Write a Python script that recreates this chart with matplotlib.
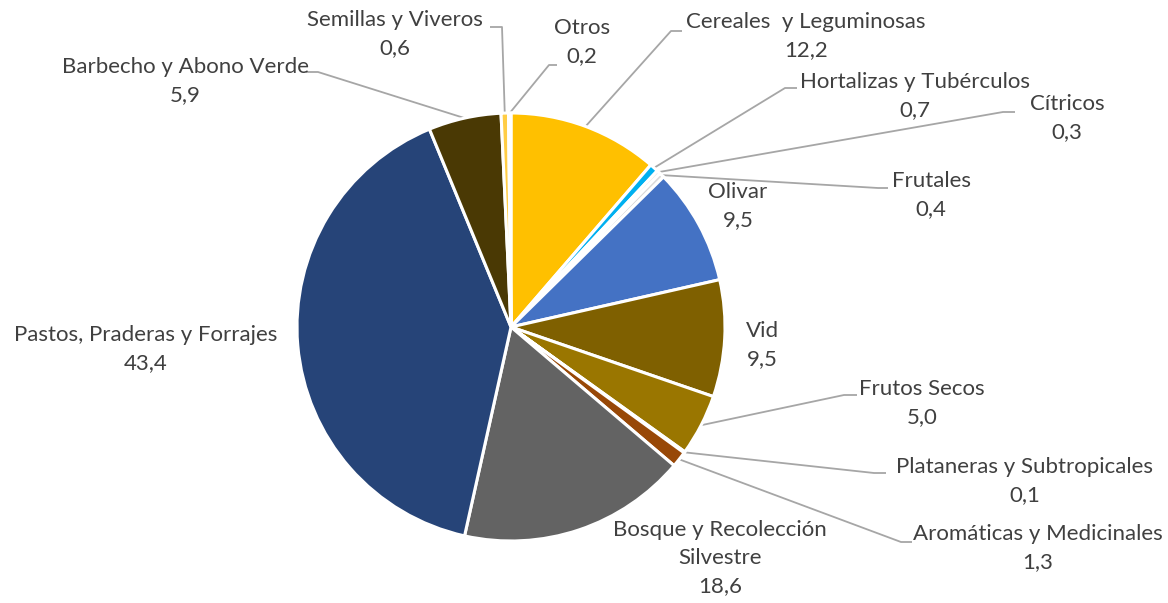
import numpy as np
import matplotlib
matplotlib.use("Agg")
import matplotlib.pyplot as plt

categories = ["Cereales  y Leguminosas", "Hortalizas y Tubérculos", "Cítricos", "Frutales",
              "Olivar", "Vid", "Frutos Secos", "Plataneras y Subtropicales",
              "Aromáticas y Medicinales", "Bosque y Recolección\nSilvestre",
              "Pastos, Praderas y Forrajes", "Barbecho y Abono Verde",
              "Semillas y Viveros", "Otros"]
values = [12.2, 0.7, 0.3, 0.4, 9.5, 9.5, 5.0, 0.1, 1.3, 18.6, 43.4, 5.9, 0.6, 0.2]
colors = ["#FFC000", "#00B0F0", "#E4E4E4", "#D9D9D9", "#4472C4", "#7F6000", "#9A7600",
          "#BF9000", "#984807", "#636363", "#264478", "#4A3904", "#FFCD45", "#FFE699"]

# layout (image pixel coords): label centre, leader elbow, leader end at text
label_pos = [(806, 36), (915, 96), (1067, 118), (931, 195), (738, 206), (762, 345),
             (922, 403), (1025, 481), (1038, 548), (720, 558), (146, 349), (185, 81),
             (395, 34), (582, 42)]
leaders = {0: ((671, 31), (682, 31)), 1: ((785, 88), (797, 88)),
           2: ((1003, 112), (1015, 112)), 3: ((878, 188), (888, 188)),
           6: ((844, 395), (857, 395)), 7: ((874, 473), (886, 473)),
           8: ((901, 542), (912, 542)), 11: ((318, 72), (306, 72)),
           12: ((502, 27), (490, 27)), 13: ((549, 65), (557, 65))}

W, H = 1168, 603
cx, cy, R = 511, 327, 214

fig = plt.figure(figsize=(W / 100, H / 100), dpi=100)
ax = fig.add_axes([0, 0, 1, 1])
ax.pie(values, colors=colors, startangle=90, counterclock=False,
       center=(cx, H - cy), radius=R,
       wedgeprops=dict(edgecolor="white", linewidth=2.2))
ax.set_xlim(0, W)
ax.set_ylim(0, H)
ax.set_aspect("equal")
ax.axis("off")

total = sum(values)
cum = np.cumsum([0] + values)
font = dict(family=["Lato", "DejaVu Sans"], size=16, color="#404040")
for i, (cat, v) in enumerate(zip(categories, values)):
    txt = cat + "\n" + f"{v:.1f}".replace(".", ",")
    lx, ly = label_pos[i]
    ax.text(lx, H - ly, txt, ha="center", va="center", linespacing=1.5, **font)
    if i in leaders:
        mid = (cum[i] + v / 2) / total * 2 * np.pi
        px = cx + R * np.sin(mid)
        py = cy - R * np.cos(mid)
        (ex, ey), (tx, ty) = leaders[i]
        ax.plot([px, ex, tx], [H - py, H - ey, H - ty], color="#A6A6A6", lw=1.3,
                solid_capstyle="butt", zorder=0.5)

fig.savefig("out.png", dpi=100)
